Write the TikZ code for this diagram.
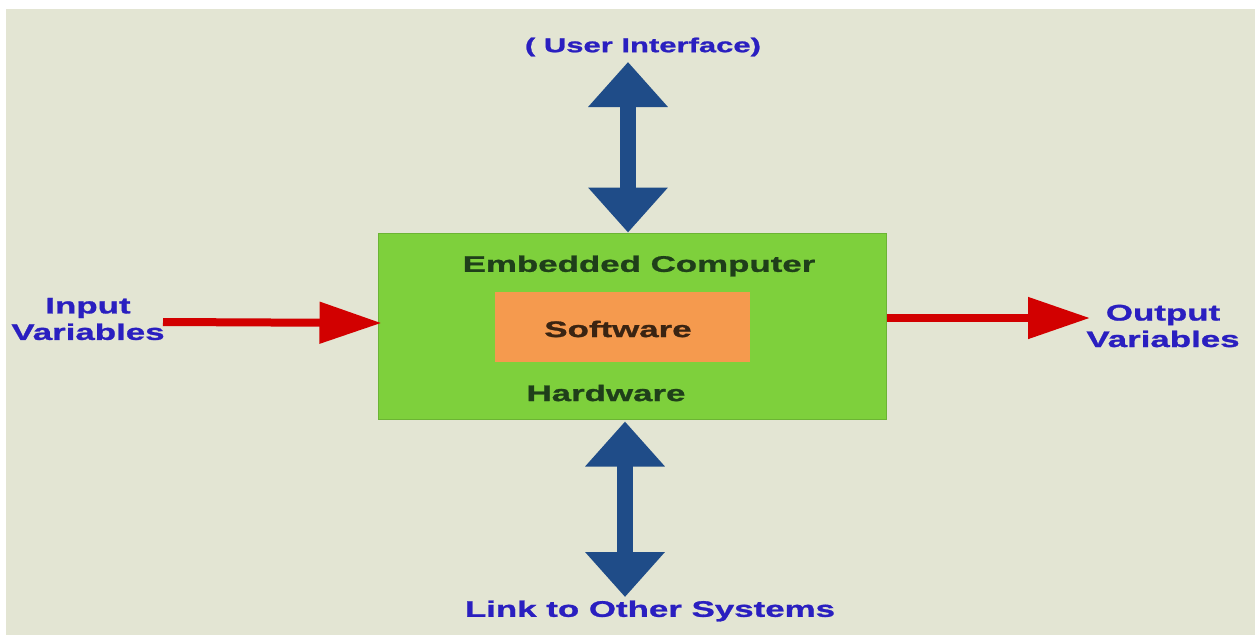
\documentclass[tikz,border=0pt]{standalone}
\usepackage{fontspec}
\newfontfamily\lab[FakeStretch=1.55,FakeBold=1.2]{Liberation Sans}
\usetikzlibrary{arrows.meta}
\definecolor{bgbeige}{HTML}{E3E5D3}
\definecolor{boxgreen}{HTML}{7ED03C}
\definecolor{boxedge}{HTML}{6CB434}
\definecolor{softorange}{HTML}{F59A4E}
\definecolor{labblue}{HTML}{2A1FC0}
\definecolor{darkgreen}{HTML}{1F3F1A}
\definecolor{darkbrown}{HTML}{3A2412}
\definecolor{arrowblue}{HTML}{1F4C88}
\definecolor{arrowred}{HTML}{D20000}
\tikzset{
  x=1pt, y=-1pt,
  lbl/.style={font=\lab\bfseries\fontsize{22.5}{26.5}\selectfont, inner sep=0pt, align=center},
  bluelbl/.style={lbl, text=labblue},
  bluearrow/.style={draw=arrowblue, line width=16pt,
    {Triangle[width=77pt,length=45pt,fill=arrowblue]}-{Triangle[width=77pt,length=45pt,fill=arrowblue]}},
  redarrow/.style={draw=arrowred, line width=8pt,
    -{Triangle[width=40pt,length=62pt,fill=arrowred]}},
}
\begin{document}
\begin{tikzpicture}
\useasboundingbox (0,0) rectangle (1255,635);
\fill[white] (0,0) rectangle (1255,635);
\fill[bgbeige] (6,9) rectangle (1255,635);
% main box
\node[draw=boxedge, line width=1pt, fill=boxgreen, minimum width=508pt, minimum height=186pt, inner sep=0pt] (box) at (632,326) {};
\node[fill=softorange, minimum width=255pt, minimum height=70pt, inner sep=0pt] (soft) at (622.5,327) {};
\node[lbl, text=darkbrown] (softt) at (618,329) {Software};
\node[lbl, text=darkgreen] (emb) at (639,266) {Embedded Computer};
\node[lbl, text=darkgreen] (hard) at (606,393) {Hardware};
% labels
\node[bluelbl, font=\lab\bfseries\fontsize{20}{24}\selectfont] (ui) at (643,47) {( User Interface)};
\node[bluelbl] (link) at (650,611) {Link to Other Systems};
\node[bluelbl] (inp) at (88,319) {Input\\Variables};
\node[bluelbl] (outp) at (1163,326) {Output\\Variables};
% arrow end points
\coordinate (uitip) at (628,62);
\coordinate (linktip) at (625,597);
\coordinate (instart) at (163,322);
\coordinate (outtip) at (1090,318);
% arrows
\draw[bluearrow] ([xshift=-4pt]box.north) -- (uitip);
\draw[bluearrow] ([xshift=-7pt,yshift=-2pt]box.south) -- (linktip);
\draw[redarrow] (instart) -- ([xshift=4pt,yshift=3pt]box.west);
\draw[redarrow] ([yshift=8pt]box.east) -- (outtip);
\end{tikzpicture}
\end{document}
